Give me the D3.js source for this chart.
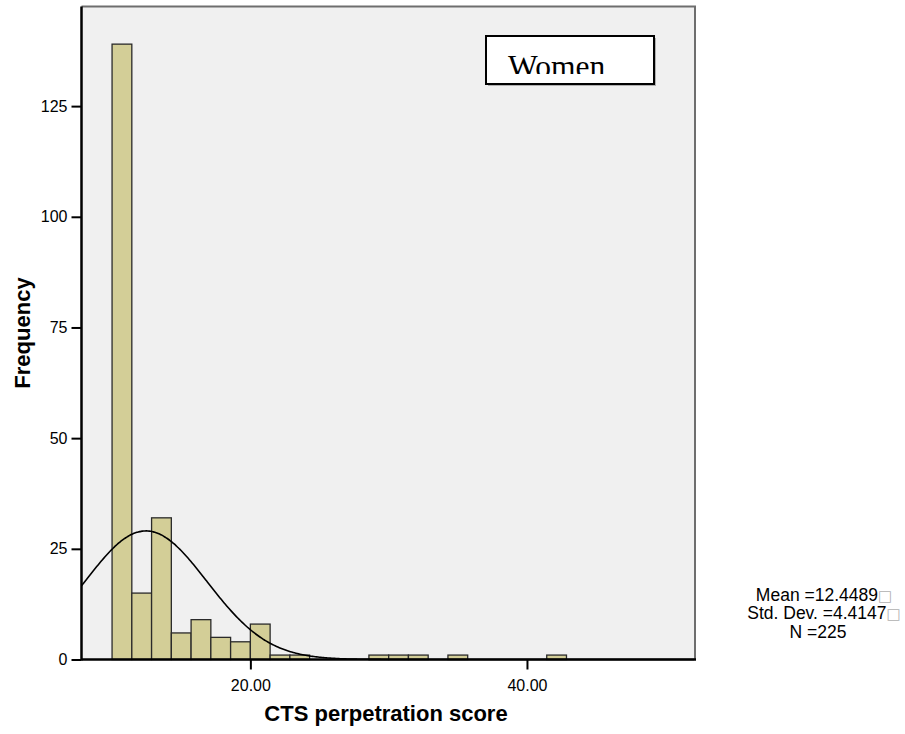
<!DOCTYPE html>
<html><head><meta charset="utf-8">
<script src="https://cdn.jsdelivr.net/npm/d3@7"></script>
<style>body{margin:0;background:#fff} svg{display:block}</style>
</head><body>
<script>
// ---- data ----
const binStart = 10;
const binWidth = 10 / 7;
const binCounts = [139, 15, 32, 6, 9, 5, 4, 8, 1, 1, 0, 0, 0, 1, 1, 1, 0, 1, 0, 0, 0, 0, 1];
const yTicks = [0, 25, 50, 75, 100, 125];
const xTicks = [20, 40];
const xTickLabels = ["20.00", "40.00"];
const meanValue = 12.4489;
const sdValue = 4.4147;
const nValue = 225;
const statLines = ["Mean =12.4489", "Std. Dev. =4.4147", "N =225"];
const panelLabel = "Women";
const xTitle = "CTS perpetration score";
const yTitle = "Frequency";

// ---- layout ----
const W = 905, H = 734;
const plot = {left: 81.5, right: 695, top: 6.5, bottom: 659.5};
const sans = "Liberation Sans, Arial, sans-serif";

const svg = d3.select("body").append("svg").attr("width", W).attr("height", H);

const x = d3.scaleLinear().domain([7.79, 52.15]).range([plot.left, plot.right]);
const y = d3.scaleLinear().domain([0, 147.5]).range([plot.bottom, plot.top]);

// background
svg.append("rect").attr("x", plot.left).attr("y", plot.top)
  .attr("width", plot.right - plot.left).attr("height", plot.bottom - plot.top)
  .attr("fill", "#f0f0f0");

// bars
const bins = binCounts.map((c, i) => ({x0: binStart + i * binWidth, x1: binStart + (i + 1) * binWidth, c}));
svg.append("g").selectAll("rect").data(bins.filter(d => d.c > 0)).join("rect")
  .attr("x", d => x(d.x0)).attr("width", d => x(d.x1) - x(d.x0))
  .attr("y", d => y(d.c)).attr("height", d => y(0) - y(d.c))
  .attr("fill", "#d3ce97").attr("stroke", "#2a2a2a").attr("stroke-width", 1.3);

// normal curve
const pdf = v => nValue * binWidth * Math.exp(-0.5 * ((v - meanValue) / sdValue) ** 2) / (sdValue * Math.sqrt(2 * Math.PI));
const xs = d3.range(x.domain()[0], x.domain()[1] + 0.001, 0.1);
svg.append("path").datum(xs)
  .attr("d", d3.line().x(v => x(v)).y(v => y(pdf(v))).curve(d3.curveBasis))
  .attr("fill", "none").attr("stroke", "#000").attr("stroke-width", 1.6);

// top/right frame
svg.append("path")
  .attr("d", `M${plot.left},${plot.top}H${plot.right}V${plot.bottom}`)
  .attr("fill", "none").attr("stroke", "#6e6e6e").attr("stroke-width", 2);

// axes
const yAxis = d3.axisLeft(y).tickValues(yTicks).tickSize(10).tickSizeOuter(0).tickPadding(4);
const gy = svg.append("g").attr("transform", `translate(${plot.left},0)`).call(yAxis);
gy.select(".domain").remove();
gy.selectAll("line").attr("stroke", "#000").attr("stroke-width", 2);
gy.selectAll("text").attr("font-family", sans).attr("font-size", 16).attr("fill", "#000");

const xAxis = d3.axisBottom(x).tickValues(xTicks).tickFormat((d, i) => xTickLabels[i]).tickSize(10).tickSizeOuter(0).tickPadding(10);
const gx = svg.append("g").attr("transform", `translate(0,${plot.bottom})`).call(xAxis);
gx.select(".domain").remove();
gx.selectAll("line").attr("stroke", "#000").attr("stroke-width", 2);
gx.selectAll("text").attr("font-family", sans).attr("font-size", 16).attr("fill", "#000");

svg.append("line").attr("x1", plot.left).attr("x2", plot.left).attr("y1", plot.top).attr("y2", plot.bottom + 1)
  .attr("stroke", "#000").attr("stroke-width", 2.5);
svg.append("line").attr("x1", plot.left).attr("x2", plot.right + 1).attr("y1", plot.bottom).attr("y2", plot.bottom)
  .attr("stroke", "#000").attr("stroke-width", 2.5);

// axis titles
svg.append("text").attr("x", 386).attr("y", 721)
  .attr("text-anchor", "middle").attr("font-family", sans)
  .attr("font-weight", "bold").attr("font-size", 22).text(xTitle);
svg.append("text").attr("transform", `translate(30,333) rotate(-90)`)
  .attr("text-anchor", "middle").attr("font-family", sans)
  .attr("font-weight", "bold").attr("font-size", 22).text(yTitle);

// Women box
svg.append("rect").attr("x", 488).attr("y", 38).attr("width", 168).attr("height", 48).attr("fill", "#b0b0b0");
svg.append("rect").attr("x", 486).attr("y", 36).attr("width", 168).attr("height", 48)
  .attr("fill", "#fff").attr("stroke", "#000").attr("stroke-width", 2);
svg.append("clipPath").attr("id", "wclip").append("rect").attr("x", 486).attr("y", 36).attr("width", 168).attr("height", 38);
svg.append("text").attr("x", 508).attr("y", 76.5).attr("clip-path", "url(#wclip)")
  .attr("font-family", "Liberation Serif, Times New Roman, serif").attr("font-size", 31.5).attr("fill", "#000")
  .text(panelLabel);

// stats
const statX = [824, 824, 818];
const statY = [600.5, 619, 637.5];
statLines.forEach((s, i) => {
  const t = svg.append("text").attr("x", statX[i]).attr("y", statY[i]).attr("text-anchor", "middle")
    .attr("font-family", sans).attr("font-size", 17.5).attr("fill", "#000");
  t.append("tspan").text(s);
  if (i < 2) t.append("tspan").attr("fill", "#b0b0b0").attr("font-family", "DejaVu Sans").attr("font-size", 15).text("\u25A1");
});
</script>
</body></html>
